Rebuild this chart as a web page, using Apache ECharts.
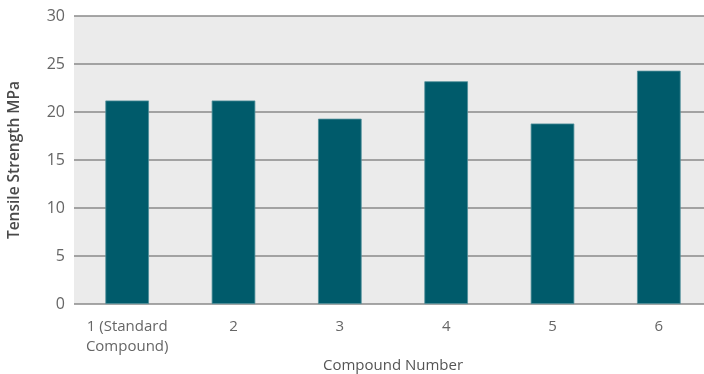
<!DOCTYPE html>
<html>
<head>
<meta charset="utf-8">
<script src="https://cdn.jsdelivr.net/npm/echarts@6/dist/echarts.min.js"></script>
<style>
  html, body { margin: 0; padding: 0; background: #ffffff; }
  #chart { width: 704px; height: 374px; }
</style>
</head>
<body>
<div id="chart"></div>
<script>
// Tensile strength per compound
const categories = ['1 (Standard\nCompound)', '2', '3', '4', '5', '6'];
const tensileStrength = [21.2, 21.2, 19.3, 23.2, 18.8, 24.3];
const yTicks = { min: 0, max: 30, interval: 5 };

const font = '"Open Sans", "Noto Sans", sans-serif';
const chart = echarts.init(document.getElementById('chart'));
chart.setOption({
  animation: false,
  backgroundColor: '#ffffff',
  grid: {
    left: 74, right: -8, top: 16, bottom: 70,
    outerBoundsMode: 'none',
    containLabel: false,
    show: true, backgroundColor: '#ebebeb', borderWidth: 0
  },
  xAxis: {
    type: 'category',
    data: categories,
    name: 'Compound Number',
    nameLocation: 'middle',
    nameGap: 54,
    nameMoveOverlap: false,
    nameTextStyle: { fontFamily: font, fontSize: 15, color: '#555555' },
    axisLine: { show: false },
    axisTick: { show: false },
    axisLabel: { interval: 0, fontFamily: font, fontSize: 15, color: '#666666', margin: 13, lineHeight: 20 }
  },
  yAxis: {
    type: 'value',
    min: yTicks.min, max: yTicks.max, interval: yTicks.interval,
    name: 'Tensile Strength MPa',
    nameLocation: 'middle',
    nameGap: 51,
    nameMoveOverlap: false,
    nameTextStyle: { fontFamily: font, fontSize: 15.5, fontWeight: 600, color: '#4a4a4a' },
    axisLine: { show: false },
    axisTick: { show: false },
    axisLabel: { fontFamily: font, fontSize: 16, color: '#666666', margin: 9 },
    splitLine: { lineStyle: { color: '#8a8a8a', width: 1.5 } }
  },
  series: [{
    type: 'bar',
    data: tensileStrength,
    barWidth: '41%',
    itemStyle: { color: '#005b6b', borderColor: '#4f8f99', borderWidth: 0.8 }
  }]
});
</script>
</body>
</html>
